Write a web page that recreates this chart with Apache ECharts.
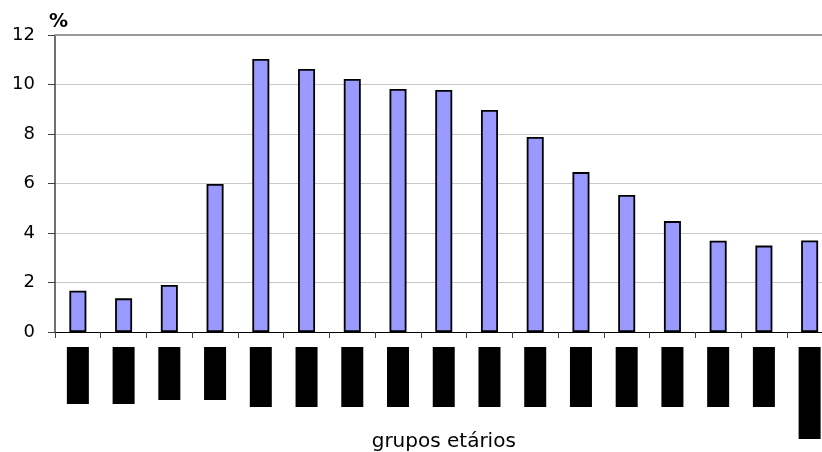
<!DOCTYPE html>
<html>
<head>
<meta charset="utf-8">
<script src="https://cdn.jsdelivr.net/npm/echarts@6/dist/echarts.min.js"></script>
<style>html,body{margin:0;padding:0;background:#fff;}#c{width:822px;height:452px;}</style>
</head>
<body>
<div id="c"></div>
<script>
const categories = ['0 a 4','5 a 9','10 a 14','15 a 19','20 a 24','25 a 29','30 a 34','35 a 39','40 a 44','45 a 49','50 a 54','55 a 59','60 a 64','65 a 69','70 a 74','75 a 79','80 e mais'];
const values = [1.67, 1.36, 1.9, 5.98, 11.03, 10.63, 10.22, 9.82, 9.78, 8.97, 7.88, 6.46, 5.54, 4.48, 3.69, 3.49, 3.70];
const yTicks = [0, 2, 4, 6, 8, 10, 12];

// label box style per position (visual only)
const boxKeys = ['a','a','b','b','c','c','c','c','c','c','c','c','c','c','c','c','d'];

const chart = echarts.init(document.getElementById('c'));
const boxBase = {backgroundColor:'#000', color:'#000', height:22, lineHeight:22, fontSize:10, fontFamily:'DejaVu Sans', overflow:'truncate', align:'right'};
chart.setOption({
  animation:false,
  backgroundColor:'#fff',
  title:{text:'%', left:44, top:8, padding:5, textStyle:{fontFamily:'DejaVu Sans', fontWeight:'bold', fontSize:19, color:'#000'}},
  grid:{left:55, top:35, bottom:120, right:-10.5, outerBoundsMode:'none', containLabel:false},
  xAxis:{
    type:'category',
    data:categories,
    axisLine:{lineStyle:{color:'#000', width:1}},
    axisTick:{show:true, length:6, lineStyle:{color:'#404040'}},
    axisLabel:{
      rotate:90, margin:15, interval:0,
      formatter:function(v, i){ return '{' + boxKeys[i] + '|' + v + '}'; },
      rich:{
        a:Object.assign({}, boxBase, {width:57}),
        b:Object.assign({}, boxBase, {width:53}),
        c:Object.assign({}, boxBase, {width:60}),
        d:Object.assign({}, boxBase, {width:92})
      }
    },
    name:'grupos etários', nameLocation:'middle', nameGap:100, nameMoveOverlap:false,
    nameTextStyle:{fontFamily:'DejaVu Sans', fontSize:20, color:'#000'}
  },
  yAxis:{
    type:'value', min:yTicks[0], max:yTicks[yTicks.length-1], interval:2,
    axisLine:{show:true, lineStyle:{color:'#404040', width:1.5}},
    axisTick:{show:true, length:7, lineStyle:{color:'#404040'}},
    axisLabel:{margin:20, fontFamily:'DejaVu Sans', fontSize:18, color:'#000'},
    splitLine:{lineStyle:{color:'#c8c8c8', width:1}}
  },
  series:[{
    type:'bar',
    data:values,
    barWidth:17,
    itemStyle:{color:'#9999ff', borderColor:'#000', borderWidth:1.8},
    markLine:{silent:true, symbol:'none', label:{show:false},
      lineStyle:{color:'#999', width:2, type:'solid'},
      data:[{yAxis:yTicks[yTicks.length-1]}]}
  }]
});
</script>
</body>
</html>
